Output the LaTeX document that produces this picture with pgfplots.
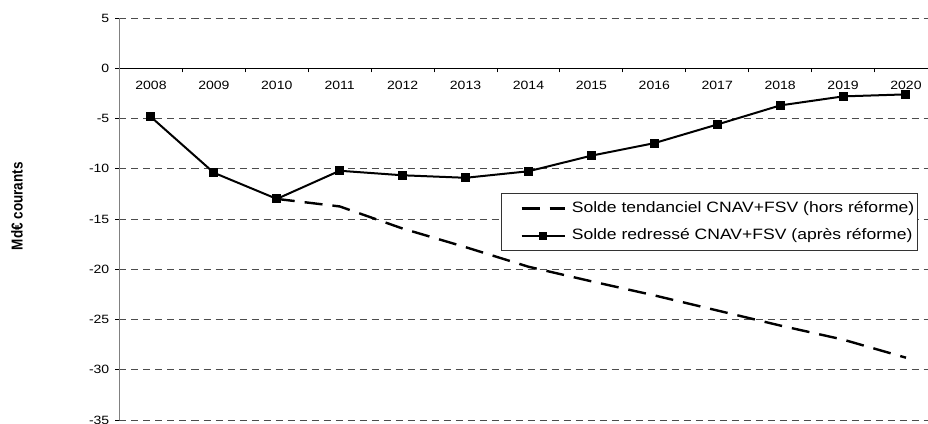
\documentclass[border=0pt]{standalone}
\usepackage{fontspec}
\setmainfont{Liberation Sans}[FakeStretch=1.17]
\newfontfamily\plainfont{Liberation Sans}
\usepackage{pgfplots}
\pgfplotsset{compat=1.18}
\pgfplotsset{
  dashleg/.style={legend image code/.code={\path (-16pt,0pt); \draw[##1] (0pt,0pt) -- (43pt,0pt);}},
  markleg/.style={legend image code/.code={\path (-16pt,0pt); \draw[##1, mark repeat=2, mark phase=2, mark size=2.8pt] plot coordinates {(0pt,0pt) (21.5pt,0pt) (43pt,0pt)};}},
}
\begin{document}
\begin{tikzpicture}
\begin{axis}[
  at={(0,0)}, anchor=south west,
  scale only axis, width=808.5pt, height=402pt,
  xmin=-0.5, xmax=12.35, ymin=-35, ymax=5,
  axis x line*=middle, axis y line*=left,
  x axis line style={-, black, line width=1.1pt},
  y axis line style={-, gray, line width=1.6pt},
  xtick={0,...,12},
  xticklabels={2008,2009,2010,2011,2012,2013,2014,2015,2016,2017,2018,2019,2020},
  minor xtick={-0.5,0.5,...,12.5},
  major x tick style={draw=none},
  minor x tick style={black, line width=0.9pt},
  minor tick length=4pt,
  major tick length=4pt,
  tick align=outside,
  ytick={-35,-30,...,5},
  yticklabels={-35,-30,-25,-20,-15,-10,-5,0,5},
  ytick style={black, line width=0.9pt},
  ymajorgrids,
  grid style={dash pattern=on 7pt off 5pt, gray!60!black, line width=0.8pt},
  tick label style={font=\fontsize{12}{14}\selectfont},
  xticklabel style={anchor=base, inner sep=0pt, yshift=-16.8pt},
  yticklabel style={anchor=east, inner sep=0pt, xshift=-6pt},
  ylabel={\scalebox{1}[1.17]{Md€ courants}},
  ylabel style={at={(rel axis cs:0,0.532)}, yshift=102.5pt, anchor=center,
    font=\plainfont\bfseries\fontsize{13.5}{15}\selectfont},
  clip=false,
  legend style={at={(0.4719,0.5647)}, anchor=north west,
    draw=black!80, line width=0.8pt, inner xsep=3pt, inner ysep=8pt,
    font=\fontsize{15}{17}\selectfont,
    nodes={inner sep=0pt, text height=10.7pt, text depth=3.2pt},
    row sep=13.5pt,
    /tikz/every odd column/.append style={column sep=6pt}},
  legend cell align=left,
]
\addplot[black, line width=2.4pt, dash pattern=on 18pt off 10pt, dashleg]
  coordinates {(2,-13.0)(3,-13.75)(4,-15.95)(5,-17.8)(6,-19.75)(7,-21.2)(8,-22.6)(9,-24.1)(10,-25.6)(11,-27.0)(12,-28.8)};
\addlegendentry{Solde tendanciel CNAV+FSV (hors réforme)}
\addplot[black, line width=2pt, mark=square*, mark size=3.5pt, mark options={solid}, markleg]
  coordinates {(0,-4.85)(1,-10.4)(2,-13.0)(3,-10.2)(4,-10.65)(5,-10.9)(6,-10.25)(7,-8.7)(8,-7.45)(9,-5.6)(10,-3.7)(11,-2.8)(12,-2.6)};
\addlegendentry{Solde redressé CNAV+FSV (après réforme)}
\end{axis}
\pgfresetboundingbox
\path (-119.5pt,-3pt) rectangle (808.5pt,420pt);
\end{tikzpicture}
\end{document}
